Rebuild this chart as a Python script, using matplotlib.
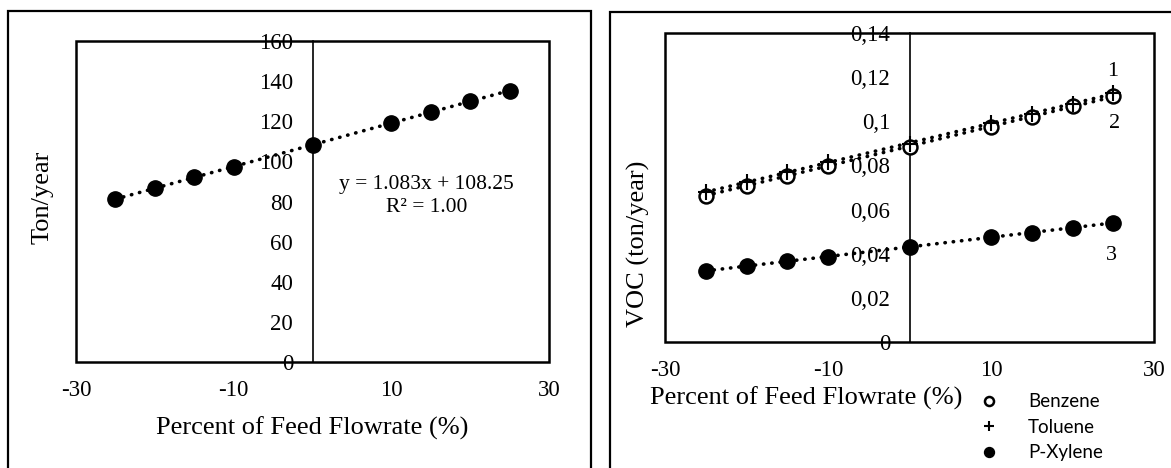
import matplotlib
matplotlib.use("Agg")
import matplotlib.pyplot as plt
from matplotlib.patches import Rectangle
import numpy as np

plt.rcParams['font.family'] = ['Liberation Serif', 'DejaVu Serif']

# feed flowrate change (%)
feed = [-25, -20, -15, -10, 0, 10, 15, 20, 25]

# total emission, ton/year
total = [81.2, 86.6, 92.0, 97.4, 108.3, 119.1, 124.5, 129.9, 135.3]
slope, intercept, r2 = 1.083, 108.25, 1.00

# VOC per component, ton/year
benzene = [0.0663, 0.0708, 0.0754, 0.0799, 0.0885, 0.0976, 0.1019, 0.1067, 0.1113]
toluene = [0.0680, 0.0725, 0.0770, 0.0815, 0.0895, 0.0990, 0.1035, 0.1080, 0.1128]
xylene = [0.0322, 0.0345, 0.0366, 0.0386, 0.0431, 0.0474, 0.0496, 0.0518, 0.0540]

xticks = [-30, -10, 10, 30]
yticks_left = [0, 20, 40, 60, 80, 100, 120, 140, 160]
yticks_right = [0, 0.02, 0.04, 0.06, 0.08, 0.10, 0.12, 0.14]
ylabels_right = ['0', '0,02', '0,04', '0,06', '0,08', '0,1', '0,12', '0,14']

W, H = 1171, 468
fig = plt.figure(figsize=(W / 100, H / 100), dpi=100)


def px_axes(x0, y0, x1, y1):
    return fig.add_axes([x0 / W, 1 - y1 / H, (x1 - x0) / W, (y1 - y0) / H])


def style(ax, yt, ylab, ylim):
    ax.set_xlim(-30, 30)
    ax.set_ylim(*ylim)
    ax.spines['left'].set_position(('data', 0))
    for s in ['top', 'right', 'bottom']:
        ax.spines[s].set_visible(False)
    ax.spines['left'].set_linewidth(1.2)
    ax.add_patch(Rectangle((0, 0), 1, 1, transform=ax.transAxes, fill=False,
                           lw=1.8, ec='black', zorder=5, clip_on=False))
    ax.set_xticks(xticks)
    ax.set_xticklabels([str(v) for v in xticks])
    ax.set_yticks(yt)
    ax.set_yticklabels(ylab)
    ax.tick_params(axis='x', length=0, pad=13, labelsize=16.5)
    ax.tick_params(axis='y', length=0, pad=14, labelsize=16.5)


dot = dict(ls=(0, (0.1, 2.2)), lw=2.6, color='black', dash_capstyle='round')

# left: total emission
ax1 = px_axes(76, 41, 549, 362)
style(ax1, yticks_left, [str(v) for v in yticks_left], (0, 160))
xs = np.array([feed[0], feed[-1]])
ax1.plot(xs, slope * xs + intercept, **dot, zorder=2)
ax1.plot(feed, total, 'o', color='black', ms=11, zorder=3)
ax1.text(14.5, 88.7, f'y = {slope:.3f}x + {intercept:.2f}', ha='center', va='center', fontsize=15.5)
ax1.text(14.5, 77.0, f'R² = {r2:.2f}', ha='center', va='center', fontsize=15.5)

fig.text(312 / W, 1 - 428 / H, 'Percent of Feed Flowrate (%)', ha='center', va='center', fontsize=19)
fig.text(43 / W, 1 - 197 / H, 'Ton/year', ha='center', va='center', rotation=90, fontsize=19)

# right: VOC per component
ax2 = px_axes(665, 33, 1154, 342)
style(ax2, yticks_right, ylabels_right, (0, 0.14))
handles = []
for vals, mk, kw in [(benzene, 'o', dict(mfc='white', ms=10, mew=1.8)),
                     (toluene, '+', dict(ms=12, mew=1.5)),
                     (xylene, 'o', dict(ms=11))]:
    k, b = np.polyfit(feed, vals, 1)
    ax2.plot(xs, k * xs + b, **dot, zorder=2)
    h, = ax2.plot(feed, vals, mk, color='black', mec='black', zorder=3, **kw)
    handles.append(h)

for txt, xv, yv in [('1', 24.9, 0.1225), ('2', 25.2, 0.0992), ('3', 24.8, 0.0390)]:
    ax2.text(xv, yv, txt, ha='center', va='center', fontsize=16)

fig.text(806 / W, 1 - 398 / H, 'Percent of Feed Flowrate (%)', ha='center', va='center', fontsize=19)
fig.text(638 / W, 1 - 244 / H, 'VOC (ton/year)', ha='center', va='center', rotation=90, fontsize=19)

fig.legend(handles, ['Benzene', 'Toluene', 'P-Xylene'], loc='upper left',
           bbox_to_anchor=(970 / W, 1 - 384 / H), frameon=False, markerscale=0.65,
           handlelength=1.0, handletextpad=1.6, labelspacing=0.45, borderpad=0,
           prop={'family': 'Lato', 'size': 13.5})

# panel frames
fig.add_artist(Rectangle((8 / W, -0.1), (591 - 8) / W, 1.1 - 11 / H, transform=fig.transFigure,
                         fill=False, lw=1.6, ec='black'))
fig.add_artist(Rectangle((610 / W, -0.1), 0.6, 1.1 - 12 / H, transform=fig.transFigure,
                         fill=False, lw=1.6, ec='black'))

fig.savefig('out.png', dpi=100)
